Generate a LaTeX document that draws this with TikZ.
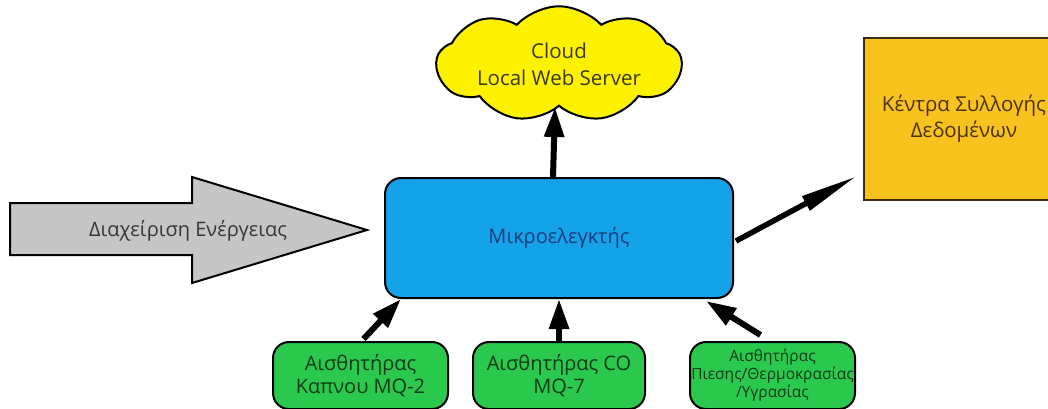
\documentclass[tikz,border=0pt]{standalone}
\usepackage{fontspec}
\setmainfont{Open Sans}
\usetikzlibrary{arrows.meta,positioning,shapes.symbols,calc}
\definecolor{mcublue}{HTML}{14A3E8}
\definecolor{mcutext}{HTML}{1C3B7A}
\definecolor{cloudyellow}{HTML}{FFF200}
\definecolor{cloudtext}{HTML}{3A3A08}
\definecolor{datagold}{HTML}{F8C31E}
\definecolor{databorder}{HTML}{3E2A10}
\definecolor{datatext}{HTML}{4A3206}
\definecolor{sensgreen}{HTML}{2BC84E}
\definecolor{senstext}{HTML}{0F3A16}
\definecolor{powergray}{HTML}{C6C6C6}
\definecolor{powertext}{HTML}{363636}

\begin{document}
\begin{tikzpicture}[
  x=1pt, y=-1pt,
  sensbox/.style={draw, line width=2pt, fill=sensgreen, rounded corners=16pt,
                  minimum width=172pt, minimum height=67pt, align=center,
                  text=senstext, font=\fontsize{20}{23}\selectfont},
  arr/.style={-{Triangle[length=30pt,width=19pt]}, line width=6pt},
  longarr/.style={-{Triangle[length=58pt,width=15pt]}, line width=5.5pt}
]
\useasboundingbox (0,0) rectangle (1048,409);

%% Central block
\node[draw, line width=2pt, fill=mcublue, rounded corners=16pt,
      minimum width=348pt, minimum height=120pt, text=mcutext,
      font=\fontsize{20}{24}\selectfont]
  (mcu) at (559,238) {Μικροελεγκτής};

%% Cloud above
\node[cloud, draw, line width=2pt, fill=cloudyellow, cloud puffs=9,
      cloud puff arc=95, aspect=2.7, minimum width=245pt, minimum height=92pt,
      inner sep=0pt, align=center, text=cloudtext,
      font=\fontsize{20.5}{27}\selectfont, above=70pt of mcu]
  (cloud) {Cloud\\Local Web Server};

%% Data centre on the right (cut by the page edge)
\node[draw, line width=2pt, draw=databorder, fill=datagold,
      minimum width=200pt, minimum height=162pt, align=center, text=datatext,
      font=\fontsize{20.5}{26}\selectfont]
  (data) at (964,119) {Κέντρα Συλλογής\\Δεδομένων};

%% Sensors below
\node[sensbox, below=42pt of mcu] (sco) {Αισθητήρας CO\\MQ-7};
\node[sensbox, minimum width=175pt, left=23pt of sco] (ssmoke) {Αισθητήρας\\Καπνου MQ-2};
\node[sensbox, minimum width=165pt, right=43pt of sco, inner sep=1pt,
      font=\fontsize{15.5}{18}\selectfont] (sclimate)
  {Αισθητήρας\\Πιεσης/Θερμοκρασίας\\/Υγρασίας};

%% Energy management arrow
\draw[line width=2pt, fill=powergray, line join=miter]
  (10,203) -- (192,203) -- (192,177) -- (367,230) -- (192,283) -- (192,255)
  -- (10,255) -- cycle;
\node[text=powertext, font=\fontsize{20}{24}\selectfont] (power) at (188,231)
  {Διαχείριση Ενέργειας};

%% Connectors
\draw[arr] ($(mcu.north)+(-6,0)$) -- ($(cloud.south)+(-4,0)$);
\draw[longarr] ($(mcu.east)+(2,3)$) -- ($(data.south west)+(-6,-25)$);
\draw[arr] ($(ssmoke.north)+(3,-2)$) -- ($(mcu.south west)+(17,0)$);
\draw[arr] (sco.north) -- (sco.north |- mcu.south);
\draw[arr] ($(sclimate.north)+(-12,-6)$) -- ($(mcu.south east)+(-28,2)$);

\end{tikzpicture}
\end{document}
